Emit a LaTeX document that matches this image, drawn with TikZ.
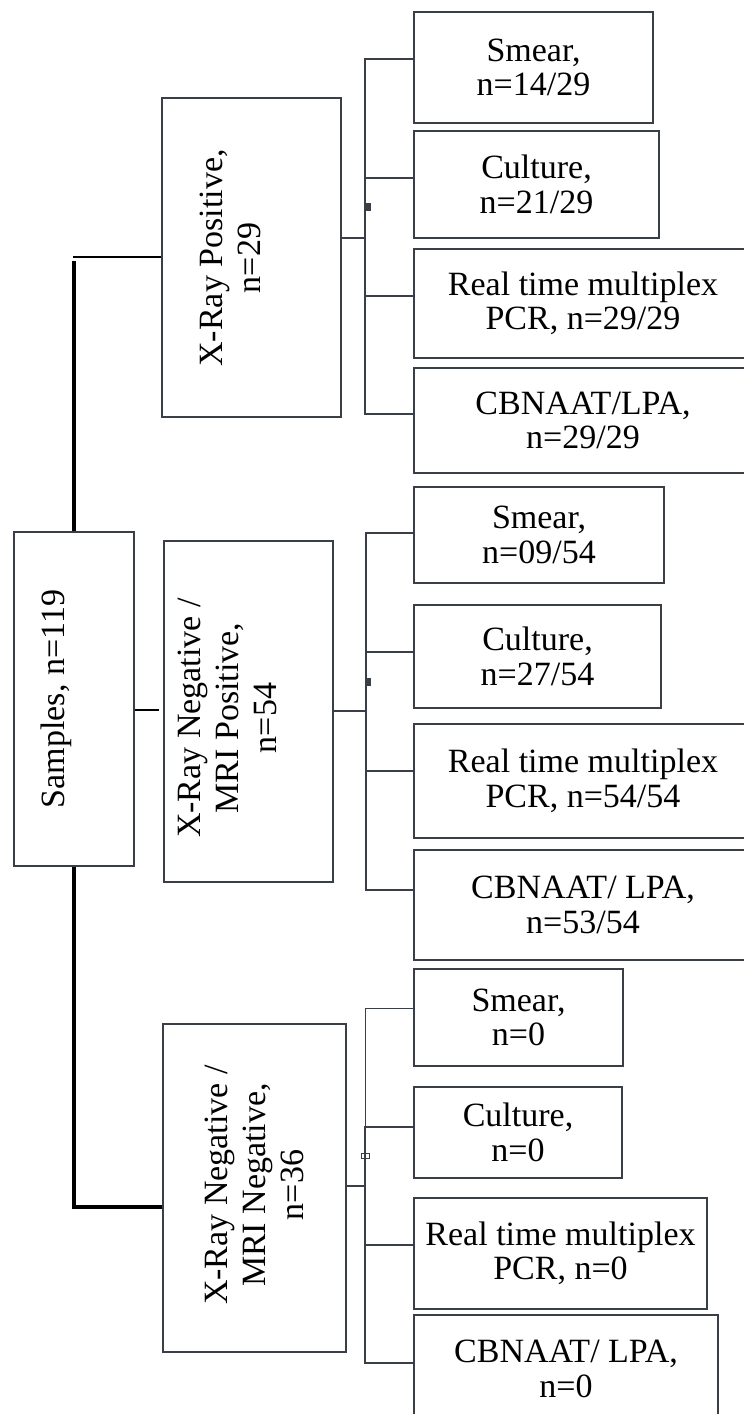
\documentclass[tikz,border=0pt]{standalone}
\usepackage{fontspec}
\setmainfont{Liberation Serif}
\definecolor{boxc}{RGB}{58,62,70}
\begin{document}
\begin{tikzpicture}[x=1pt,y=-1pt,
  box/.style={draw=boxc, line width=2.3pt, rectangle, inner sep=0pt, align=center,
    font=\fontsize{34}{34.5}\selectfont},
  rtext/.style={rotate=90, align=center, inner sep=0pt, font=\fontsize{34}{38}\selectfont},
  conn/.style={draw=boxc, line width=1.8pt, line cap=rect},
  thinc/.style={draw=boxc, line width=1pt},
  thinl/.style={draw=black, line width=1.2pt},
  thickl/.style={draw=black, line width=4pt}]
\useasboundingbox (0,0) rectangle (744,1414);
\clip (0,0) rectangle (744,1414);
\fill[white] (0,0) rectangle (744,1414);

% left column
\node[box, minimum width=120pt, minimum height=334pt] (sam) at (74,699) {};
\node[rtext] (samt) at (56,699) {Samples, n=119};

\node[box, minimum width=179pt, minimum height=319pt] (xp) at (251.5,257.5) {};
\node[rtext] (xpt) at (230,258) {X-Ray Positive,\\n=29};

\node[box, minimum width=169pt, minimum height=341pt] (xm) at (248.5,711.5) {};
\node[rtext] (xmt) at (227,718) {X-Ray Negative /\\MRI Positive,\\n=54};

\node[box, minimum width=183pt, minimum height=328pt] (xn) at (254.5,1188) {};
\node[rtext] (xnt) at (254.5,1185) {X-Ray Negative /\\MRI Negative,\\n=36};

% right column, group 1
\node[box, minimum width=239pt, minimum height=111pt] (s1) at (533.5,67.5) {Smear,\\n=14/29};
\node[box, minimum width=245pt, minimum height=107pt] (c1) at (536.5,184.5) {Culture,\\n=21/29};
\node[box, minimum width=338pt, minimum height=109pt] (r1) at (583,303.5) {Real time multiplex\\PCR, n=29/29};
\node[box, minimum width=338pt, minimum height=105pt] (b1) at (583,420.5) {CBNAAT/LPA,\\n=29/29};

% group 2
\node[box, minimum width=250pt, minimum height=96pt] (s2) at (539,535) {Smear,\\n=09/54};
\node[box, minimum width=247pt, minimum height=103pt] (c2) at (537.5,656.5) {Culture,\\n=27/54};
\node[box, minimum width=338pt, minimum height=114pt] (r2) at (583,781) {Real time multiplex\\PCR, n=54/54};
\node[box, minimum width=338pt, minimum height=110pt] (b2) at (583,905) {CBNAAT/ LPA,\\n=53/54};

% group 3
\node[box, minimum width=209pt, minimum height=97pt] (s3) at (518.5,1017.5) {Smear,\\n=0};
\node[box, minimum width=208pt, minimum height=91pt] (c3) at (518,1132.5) {Culture,\\n=0};
\node[box, minimum width=293pt, minimum height=111pt] (r3) at (560.5,1253.5) {Real time multiplex\\PCR, n=0};
\node[box, minimum width=304pt, minimum height=108pt] (b3) at (566,1369) {CBNAAT/ LPA,\\n=0};

% connectors from samples
\coordinate (a0) at (73,257);
\draw[thinl] (a0) -- (a0 -| xp.west);
\coordinate (a1) at (74,261);
\draw[thickl] (a1) -- (sam.north);
\coordinate (a2) at (159,710);
\draw[thinl] (sam.east |- a2) -- (a2);
\coordinate (a3) at (74,1207);
\draw[thickl, line join=miter] (sam.south) -- (a3) -- (a3 -| xn.west);

% group 1 bus
\coordinate (j1) at (365,238);
\draw[conn] (xp.east |- j1) -- (j1);
\coordinate (t1) at (365,59);
\coordinate (u1) at (365,414);
\draw[conn] (t1) -- (u1);
\foreach \yy/\nn in {59/s1,178/c1,296/r1,414/b1}
  \draw[conn] (365,\yy) -- (\nn.west |- 365,\yy);
\fill[boxc] (365,203) rectangle (371,211);

% group 2 bus
\coordinate (j2) at (366,711);
\draw[conn] (xm.east |- j2) -- (j2);
\coordinate (t2) at (366,533);
\coordinate (u2) at (366,890);
\draw[conn] (t2) -- (u2);
\foreach \yy/\nn in {533/s2,652/c2,771/r2,890/b2}
  \draw[conn] (366,\yy) -- (\nn.west |- 366,\yy);
\fill[boxc] (366,678) rectangle (371,686);

% group 3 bus
\coordinate (j3) at (365,1186);
\draw[conn] (xn.east |- j3) -- (j3);
\coordinate (t3) at (365,1008);
\coordinate (m3) at (365,1127);
\coordinate (u3) at (365,1363);
\draw[thinc] (t3) -- (m3);
\draw[conn] (m3) -- (u3);
\draw[thinc] (t3) -- (t3 -| s3.west);
\foreach \yy/\nn in {1127/c3,1245/r3,1363/b3}
  \draw[conn] (365,\yy) -- (\nn.west |- 365,\yy);
\draw[boxc, line width=1pt] (361,1153) rectangle (369,1158);
\end{tikzpicture}
\end{document}
